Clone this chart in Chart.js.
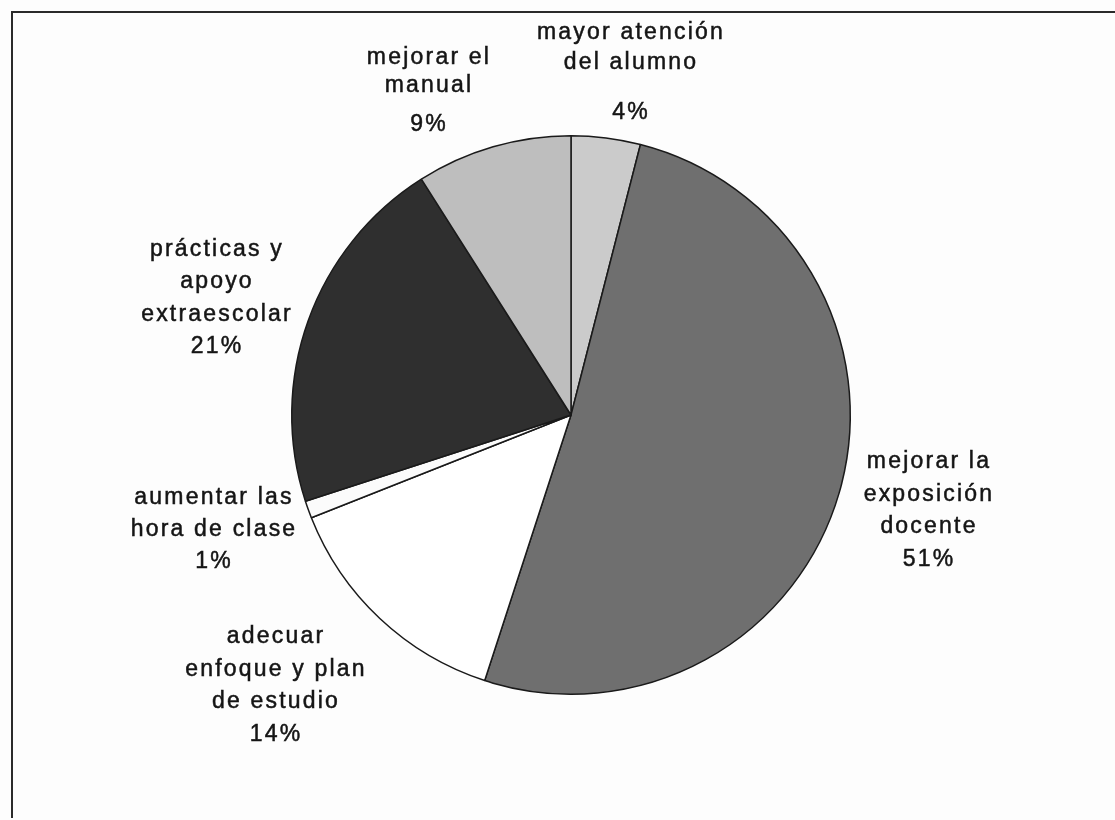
<!DOCTYPE html>
<html>
<head>
<meta charset="utf-8">
<script src="https://cdn.jsdelivr.net/npm/chart.js@4/dist/chart.umd.min.js"></script>
<style>
  html, body { margin: 0; padding: 0; background: #fdfdfd; }
  #wrap { width: 1115px; height: 820px; position: relative; }
</style>
</head>
<body>
<div id="wrap"><canvas id="pie"></canvas></div>
<script>
/* ── DATA ── */
var categories = [
  'mayor atención del alumno',
  'mejorar la exposición docente',
  'adecuar enfoque y plan de estudio',
  'aumentar las hora de clase',
  'prácticas y apoyo extraescolar',
  'mejorar el manual'
];
var percents = [4, 51, 14, 1, 21, 9];
var labelLines = [
  ['mayor atención', 'del alumno', '4%'],
  ['mejorar la', 'exposición', 'docente', '51%'],
  ['adecuar', 'enfoque y plan', 'de estudio', '14%'],
  ['aumentar las', 'hora de clase', '1%'],
  ['prácticas y', 'apoyo', 'extraescolar', '21%'],
  ['mejorar el', 'manual', '9%']
];

/* ── LOOK ── */
var sliceColors = ['#cbcbcb', '#6f6f6f', '#ffffff', '#fbfbfb', '#2f2f2f', '#bebebe'];
// where each label block sits: centre x, middle of each line
var labelPos = [
  { x: 630, ys: [33, 63, 113] },
  { x: 928, ys: [462, 495, 527, 560] },
  { x: 275, ys: [637, 670, 702, 735] },
  { x: 213, ys: [498, 530, 562] },
  { x: 216, ys: [250, 282, 315, 347] },
  { x: 428, ys: [58, 86, 125] }
];

var framePlugin = {
  id: 'frame',
  beforeDraw: function (chart) {
    var c = chart.ctx;
    c.save();
    c.strokeStyle = '#2a2a2a';
    c.lineWidth = 2;
    c.beginPath();
    c.moveTo(1120, 12);
    c.lineTo(12, 12);
    c.lineTo(12, 818);
    c.stroke();
    c.restore();
  }
};

var labelPlugin = {
  id: 'sliceLabels',
  afterDraw: function (chart) {
    var c = chart.ctx;
    c.save();
    c.fillStyle = '#151515';
    c.strokeStyle = '#151515';
    c.lineWidth = 0.5;
    c.font = '23px "Liberation Sans", Arial, sans-serif';
    c.letterSpacing = '2.2px';
    c.textAlign = 'center';
    c.textBaseline = 'middle';
    labelLines.forEach(function (lines, i) {
      var p = labelPos[i];
      lines.forEach(function (t, j) {
        c.fillText(t, p.x + 1, p.ys[j]);
        c.strokeText(t, p.x + 1, p.ys[j]);
      });
    });
    c.restore();
  }
};

new Chart(document.getElementById('pie'), {
  type: 'pie',
  data: {
    labels: categories,
    datasets: [{
      data: percents,
      backgroundColor: sliceColors,
      borderColor: '#1a1a1a',
      borderWidth: 1.5
    }]
  },
  options: {
    responsive: true,
    maintainAspectRatio: false,
    animation: false,
    layout: { padding: { left: 291, right: 264, top: 135, bottom: 125 } },
    plugins: {
      legend: { display: false },
      tooltip: { enabled: false }
    }
  },
  plugins: [framePlugin, labelPlugin]
});
</script>
</body>
</html>
